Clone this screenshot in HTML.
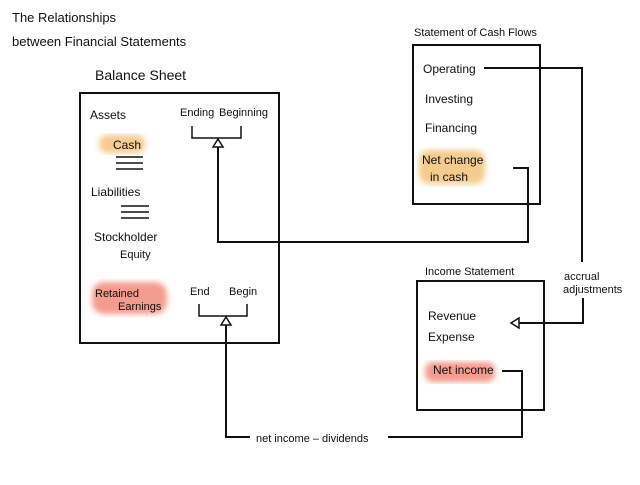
<!DOCTYPE html>
<html><head><style>
body{margin:0;background:#fff}
svg text{font-family:"Liberation Sans",sans-serif;fill:#111}
</style></head><body>
<svg width="640" height="480" viewBox="0 0 640 480" xmlns="http://www.w3.org/2000/svg">
<defs>
<filter id="b"><feGaussianBlur stdDeviation="3"/></filter>
</defs>
<rect width="640" height="480" fill="#fff"/>
<!-- highlights -->
<rect x="99" y="135" width="46" height="18" rx="8" fill="#f2c27a" filter="url(#b)" opacity=".85"/>
<rect x="92" y="282" width="75" height="32" rx="12" fill="#f28a78" filter="url(#b)" opacity=".85"/>
<rect x="419" y="150" width="66" height="34" rx="10" fill="#f2c27a" filter="url(#b)" opacity=".85"/>
<rect x="425" y="362" width="70" height="20" rx="8" fill="#f28a78" filter="url(#b)" opacity=".85"/>
<g font-size="12">
<text x="12" y="22" font-size="13">The Relationships</text>
<text x="12" y="46" font-size="13">between Financial Statements</text>
<text x="95" y="80" font-size="14">Balance Sheet</text>
<text x="90" y="119">Assets</text>
<text x="113" y="149">Cash</text>
<text x="91" y="196">Liabilities</text>
<text x="94" y="241">Stockholder</text>
<text x="120" y="258" font-size="11">Equity</text>
<text x="95" y="297" font-size="11">Retained</text>
<text x="118" y="310" font-size="11">Earnings</text>
<text x="180" y="116" font-size="11">Ending</text>
<text x="219" y="116" font-size="11">Beginning</text>
<text x="190" y="295" font-size="11">End</text>
<text x="229" y="295" font-size="11">Begin</text>
<text x="414" y="36" font-size="11">Statement of Cash Flows</text>
<text x="423" y="73">Operating</text>
<text x="425" y="103">Investing</text>
<text x="425" y="132">Financing</text>
<text x="422" y="164">Net change</text>
<text x="430" y="181">in cash</text>
<text x="425" y="275" font-size="11">Income Statement</text>
<text x="428" y="320">Revenue</text>
<text x="428" y="341">Expense</text>
<text x="433" y="374">Net income</text>
<text x="564" y="280" font-size="11">accrual</text>
<text x="563" y="293" font-size="11">adjustments</text>
<text x="256" y="442" font-size="11">net income – dividends</text>
</g>
<g stroke="#111" stroke-width="2" fill="none">
<rect x="80" y="93" width="199" height="250"/>
<rect x="413" y="45" width="127" height="159"/>
<rect x="417" y="281" width="127" height="129"/>
<line x1="116" y1="157" x2="143" y2="157" stroke-width="1.5"/>
<line x1="116" y1="163" x2="143" y2="163" stroke-width="1.5"/>
<line x1="116" y1="169" x2="143" y2="169" stroke-width="1.5"/>
<line x1="121" y1="206" x2="149" y2="206" stroke-width="1.5"/>
<line x1="121" y1="212" x2="149" y2="212" stroke-width="1.5"/>
<line x1="121" y1="218" x2="149" y2="218" stroke-width="1.5"/>
<polyline points="192,126 192,138 241,138 241,126" stroke-width="1.5"/>
<polyline points="199,304 199,316 247,316 247,304" stroke-width="1.5"/>
<polyline points="513,168 528,168 528,242 218,242 218,146"/>
<polyline points="484,68 582,68 582,262"/>
<polyline points="583,298 583,323 519,323"/>
<polyline points="502,371 522,371 522,437 388,437"/>
<polyline points="250,437 226,437 226,325"/>
</g>
<g stroke="#111" stroke-width="1.5" fill="#fff">
<polygon points="218,139 213,147 223,147"/>
<polygon points="226,317 221,325 231,325"/>
<polygon points="511,323 519,318 519,328"/>
</g>
</svg>
</body></html>
